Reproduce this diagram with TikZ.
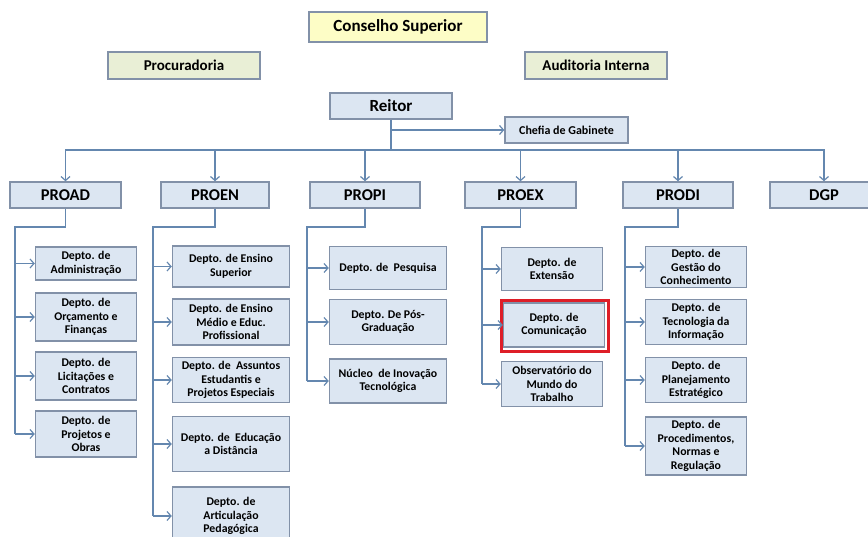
\documentclass[tikz,border=0pt]{standalone}
\usepackage{fontspec}
\setmainfont{Carlito}
\usetikzlibrary{arrows.meta}
\definecolor{boxfill}{RGB}{220,230,242}
\definecolor{boxline}{RGB}{130,145,168}
\definecolor{yellowfill}{RGB}{253,253,198}
\definecolor{greenfill}{RGB}{233,239,214}
\definecolor{connblue}{RGB}{100,135,175}
\definecolor{markred}{RGB}{222,30,40}
\begin{document}
\begin{tikzpicture}[x=1pt,y=-1pt]
    \tikzstyle{box}=[draw=boxline, fill=boxfill, line width=1.4pt,
                            inner sep=0pt, align=center]
    \tikzstyle{head}=[box, font=\bfseries\fontsize{16.5}{18}\selectfont,
                            minimum height=26pt]
    \tikzstyle{dept}=[box, font=\bfseries\fontsize{11.8}{13.5}\selectfont]
    \tikzstyle{narrow}=[dept, minimum width=101pt]
    \tikzstyle{wide}=[dept, minimum width=117pt]
    \tikzstyle{conn}=[draw=connblue, line width=1.2pt]
    \tikzstyle{arr}=[conn, -{Straight Barb[length=4pt,width=9pt]}]

    \useasboundingbox (0,0) rectangle (868,537);
    \clip (0,0) rectangle (868,537);

    % top of the chart
    \node[box, fill=yellowfill, minimum width=178pt, minimum height=30pt,
          font=\bfseries\fontsize{17}{19}\selectfont] (cs) at (398,27) {Conselho Superior};
    \node[box, fill=greenfill, minimum width=152pt, minimum height=27pt,
          font=\bfseries\fontsize{15}{17}\selectfont] (proc) at (184,65.5) {Procuradoria};
    \node[box, fill=greenfill, minimum width=142pt, minimum height=27pt,
          font=\bfseries\fontsize{15}{17}\selectfont] (aud) at (596,65.5) {Auditoria Interna};
    \node[box, minimum width=122pt, minimum height=26pt,
          font=\bfseries\fontsize{17}{19}\selectfont] (reitor) at (391,106) {Reitor};
    \node[box, minimum width=123pt, minimum height=26pt,
          font=\bfseries\fontsize{12}{14}\selectfont] (chefia) at (566.5,130) {Chefia de Gabinete};

    \node[head, minimum width=111pt] (proad) at (65.5,195) {PROAD};
    \node[head, minimum width=108pt] (proen) at (215,195) {PROEN};
    \node[head, minimum width=110pt] (propi) at (365,195) {PROPI};
    \node[head, minimum width=111pt] (proex) at (520.5,195) {PROEX};
    \node[head, minimum width=110pt] (prodi) at (678,195) {PRODI};
    \node[head, minimum width=108pt] (dgp) at (824,195) {DGP};

    % PROAD
    \node[narrow, minimum height=33pt] (ad1) at (86,263.5) {Depto. de\\Administração};
    \node[narrow, minimum height=48pt] (ad2) at (86,317) {Depto. de\\Orçamento e\\Finanças};
    \node[narrow, minimum height=48pt] (ad3) at (86,376) {Depto. de\\Licitações e\\Contratos};
    \node[narrow, minimum height=46pt] (ad4) at (86,434) {Depto. de\\Projetos e\\Obras};

    % PROEN
    \node[wide, minimum height=41pt] (en1) at (231,266.5) {Depto. de Ensino\\Superior};
    \node[wide, minimum height=46pt] (en2) at (231,322) {Depto. de Ensino\\Médio e Educ.\\Profissional};
    \node[wide, minimum height=45pt] (en3) at (231,380) {Depto. de\ \ Assuntos\\Estudantis e\\Projetos Especiais};
    \node[wide, minimum height=55pt] (en4) at (231,444) {Depto. de\ \ Educação\\a Distância};
    \node[wide, minimum height=58pt] (en5) at (231,516) {Depto. de\\Articulação\\Pedagógica};

    % PROPI
    \node[wide, minimum height=43pt] (pi1) at (388,268) {Depto. de\ \ Pesquisa};
    \node[wide, minimum height=45pt] (pi2) at (388,322) {Depto. De Pós-\\Graduação};
    \node[wide, minimum height=44pt] (pi3) at (388,381) {Núcleo\ \ de Inovação\\Tecnológica};

    % PROEX
    \node[narrow, minimum height=43pt] (ex1) at (552,269) {Depto. de\\Extensão};
    \node[narrow, minimum height=44pt] (ex2) at (554,325) {Depto. de\\Comunicação};
    \node[narrow, minimum height=45pt] (ex3) at (552,384) {Observatório do\\Mundo do\\Trabalho};
    \draw[markred, line width=2.8pt]
        ([shift={(-1,-2)}]ex2.north west) rectangle ([shift={(3,4)}]ex2.south east);

    % PRODI
    \node[narrow, minimum height=41pt] (di1) at (696,267) {Depto. de\\Gestão do\\Conhecimento};
    \node[narrow, minimum height=45pt] (di2) at (696,322) {Depto. de\\Tecnologia da\\Informação};
    \node[narrow, minimum height=45pt] (di3) at (696,380) {Depto. de\\Planejamento\\Estratégico};
    \node[narrow, minimum height=58pt] (di4) at (696,446) {Depto. de\\Procedimentos,\\Normas e\\Regulação};

    % connectors
    \coordinate (bus) at (391,150);
    \draw[conn] (reitor.south) -- (bus);
    \draw[arr] (reitor.south |- chefia.west) -- (chefia.west);
    \foreach \n in {proad,proen,propi,proex,prodi,dgp}
        \draw[arr] (bus) -| (\n.north);

    \coordinate (adbar) at (15,227);
    \coordinate (enbar) at (153,227);
    \coordinate (pibar) at (307,227);
    \coordinate (exbar) at (482,227);
    \coordinate (dibar) at (625,227);
    \draw[conn] (proad.south) |- (adbar) -- (adbar |- ad4.west);
    \draw[conn] (proen.south) |- (enbar) -- (enbar |- en5.west);
    \draw[conn] (propi.south) |- (pibar) -- (pibar |- pi3.west);
    \draw[conn] (proex.south) |- (exbar) -- (exbar |- ex3.west);
    \draw[conn] (prodi.south) |- (dibar) -- (dibar |- di4.west);
    \foreach \i in {1,...,4}
        \draw[arr] (adbar |- ad\i.west) -- (ad\i.west);
    \foreach \i in {1,...,5}
        \draw[arr] (enbar |- en\i.west) -- (en\i.west);
    \foreach \i in {1,...,3}
        \draw[arr] (pibar |- pi\i.west) -- (pi\i.west);
    \foreach \i in {1,...,3}
        \draw[arr] (exbar |- ex\i.west) -- (ex\i.west);
    \foreach \i in {1,...,4}
        \draw[arr] (dibar |- di\i.west) -- (di\i.west);
\end{tikzpicture}
\end{document}
